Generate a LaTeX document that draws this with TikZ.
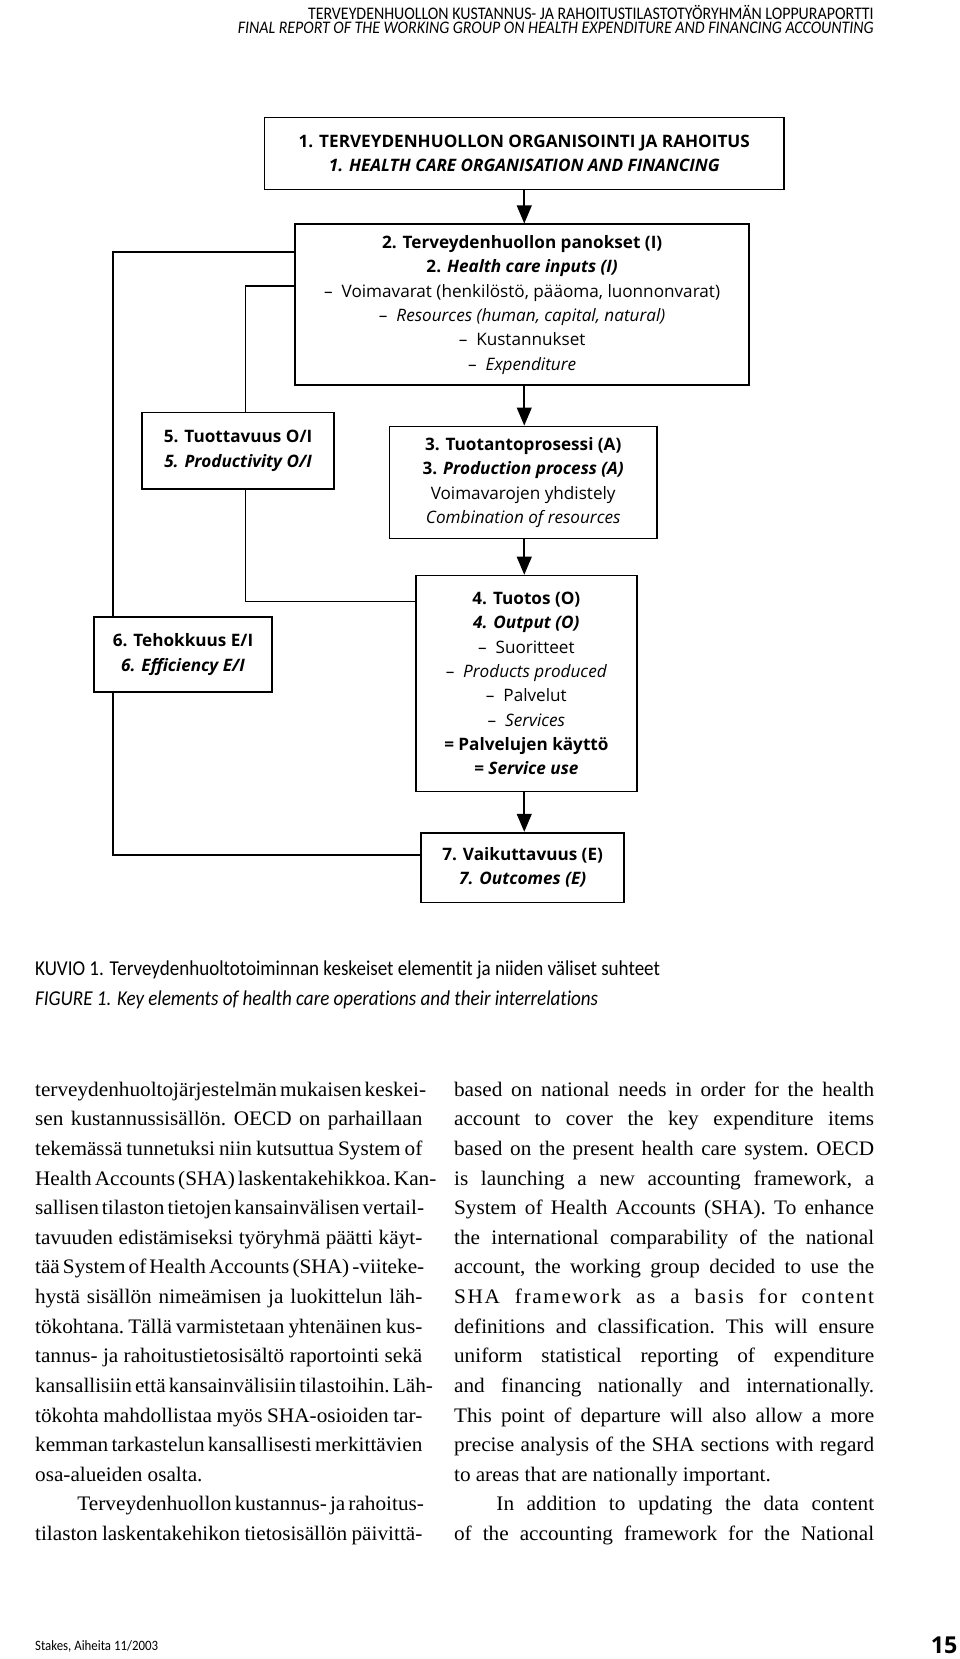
\documentclass[tikz,border=0pt]{standalone}
\usepackage{fontspec}
\setmainfont{Liberation Serif}[FakeStretch=1.03]
\newfontfamily\boxfont{Open Sans}
\newfontfamily\condfont[FakeStretch=0.9,Ligatures=NoCommon]{Carlito}
\usetikzlibrary{arrows.meta}
\newcommand{\jl}[1]{\makebox[366pt][s]{#1}}
\newcommand{\jr}[1]{\makebox[397pt][s]{#1}}
\newcommand{\bodysetup}{\fontsize{19.5}{28}\selectfont\frenchspacing
  \spaceskip=0.25em plus 0.5em minus 0.1em\relax}
\tikzset{
  box/.style={draw, line width=1.6pt, align=center, inner sep=0pt,
    font=\boxfont\bfseries\fontsize{16.2}{23}\selectfont},
  arr/.style={line width=1.5pt, -{Triangle[length=17pt,width=14pt]}},
  link/.style={line width=1.5pt},
  body/.style={anchor=base west, inner sep=0pt, font=\bodysetup},
  captext/.style={anchor=base west, inner sep=0pt, font=\condfont\fontsize{20}{24}\selectfont},
  headtext/.style={anchor=base east, inner sep=0pt, font=\condfont\fontsize{16.7}{18}\selectfont},
}
\begin{document}
\begin{tikzpicture}[x=1pt,y=-1pt]
\useasboundingbox (0,0) rectangle (907,1568);
% header
\node[headtext] (h1) at (826,18) {TERVEYDENHUOLLON KUSTANNUS- JA RAHOITUSTILASTOTYÖRYHMÄN LOPPURAPORTTI};
\node[headtext] (h2) at (826,32) {\itshape FINAL REPORT OF THE WORKING GROUP ON HEALTH EXPENDITURE AND FINANCING ACCOUNTING};
% boxes
\node[box, minimum width=491pt, minimum height=68pt] (b1) at (495.5,145)
  {1. TERVEYDENHUOLLON ORGANISOINTI JA RAHOITUS\\ \itshape 1. HEALTH CARE ORGANISATION AND FINANCING};
\node[box, minimum width=429pt, minimum height=152pt] (b2) at (493.5,288)
  {2. Terveydenhuollon panokset (I)\\ 2. \textit{Health care inputs (I)}\\
   \mdseries – \ Voimavarat (henkilöstö, pääoma, luonnonvarat)\\
   \mdseries – \ \textit{Resources (human, capital, natural)}\\
   \mdseries – \ Kustannukset\\ \mdseries – \ \textit{Expenditure}};
\node[box, minimum width=253pt, minimum height=106pt] (b3) at (494.5,456)
  {3. Tuotantoprosessi (A)\\ 3. \textit{Production process (A)}\\
   \mdseries Voimavarojen yhdistely\\ \mdseries\itshape Combination of resources};
\node[box, minimum width=209pt, minimum height=204pt] (b4) at (497.5,646)
  {4. Tuotos (O)\\ \itshape 4. Output (O)\\
   \mdseries – \ Suoritteet\\ \mdseries – \ \textit{Products produced}\\
   \mdseries – \ Palvelut\\ \mdseries – \ \textit{Services}\\
   = Palvelujen käyttö\\ = \textit{Service use}};
\node[box, minimum width=192pt, minimum height=66pt] (b7) at (494,820)
  {7. Vaikuttavuus (E)\\ \itshape 7. Outcomes (E)};
\node[box, minimum width=182pt, minimum height=72pt] (b5) at (225,426)
  {5. Tuottavuus O/I\\ \itshape 5. Productivity O/I};
\node[box, minimum width=168pt, minimum height=71pt] (b6) at (173,618.5)
  {6. Tehokkuus E/I\\ \itshape 6. Efficiency E/I};
% arrows
\coordinate (ax) at (495.5,0);
\draw[arr] (b1.south -| ax) -- (b2.north -| ax);
\draw[arr] (b2.south -| ax) -- (b3.north -| ax);
\draw[arr] (b3.south -| ax) -- (b4.north -| ax);
\draw[arr] (b4.south -| ax) -- (b7.north -| ax);
% links
\coordinate (c1) at (107,238);
\coordinate (c2) at (107,808);
\coordinate (d1) at (232,270.5);
\coordinate (d2) at (232,568.5);
\draw[link] (b2.west |- c1) -- (c1) -- (c1 |- b6.north);
\draw[link] (c1 |- b6.south) -- (c2) -- (c2 -| b7.west);
\draw[link] (b2.west |- d1) -- (d1) -- (d1 |- b5.north);
\draw[link] (d1 |- b5.south) -- (d2) -- (d2 -| b4.west);
% captions
\node[captext] (k1) at (33,922) {KUVIO 1. Terveydenhuoltotoiminnan keskeiset elementit ja niiden väliset suhteet};
\node[captext] (k2) at (33,950) {\itshape FIGURE 1. Key elements of health care operations and their interrelations};
% body left
\node[body] (l1) at (33,1036) {\jl{terveydenhuoltojärjestelmän mukaisen keskei-}};
\node[body] (l2) at (33,1064) {\jl{sen kustannussisällön. OECD on parhaillaan}};
\node[body] (l3) at (33,1092) {\jl{tekemässä tunnetuksi niin kutsuttua System of}};
\node[body] (l4) at (33,1120) {\jl{Health Accounts (SHA) laskentakehikkoa. Kan-}};
\node[body] (l5) at (33,1148) {\jl{sallisen tilaston tietojen kansainvälisen vertail-}};
\node[body] (l6) at (33,1176) {\jl{tavuuden edistämiseksi työryhmä päätti käyt-}};
\node[body] (l7) at (33,1204) {\jl{tää System of Health Accounts (SHA) -viiteke-}};
\node[body] (l8) at (33,1232) {\jl{hystä sisällön nimeämisen ja luokittelun läh-}};
\node[body] (l9) at (33,1260) {\jl{tökohtana. Tällä varmistetaan yhtenäinen kus-}};
\node[body] (l10) at (33,1288) {\jl{tannus- ja rahoitustietosisältö raportointi sekä}};
\node[body] (l11) at (33,1316) {\jl{kansallisiin että kansainvälisiin tilastoihin. Läh-}};
\node[body] (l12) at (33,1344) {\jl{tökohta mahdollistaa myös SHA-osioiden tar-}};
\node[body] (l13) at (33,1372) {\jl{kemman tarkastelun kansallisesti merkittävien}};
\node[body] (l14) at (33,1400) {osa-alueiden osalta.};
\node[body] (l15) at (73,1428) {\makebox[326pt][s]{Terveydenhuollon kustannus- ja rahoitus-}};
\node[body] (l16) at (33,1456) {\jl{tilaston laskentakehikon tietosisällön päivittä-}};
% body right
\node[body] (r1) at (429,1036) {\jr{based on national needs in order for the health}};
\node[body] (r2) at (429,1064) {\jr{account to cover the key expenditure items}};
\node[body] (r3) at (429,1092) {\jr{based on the present health care system. OECD}};
\node[body] (r4) at (429,1120) {\jr{is launching a new accounting framework, a}};
\node[body] (r5) at (429,1148) {\jr{System of Health Accounts (SHA). To enhance}};
\node[body] (r6) at (429,1176) {\jr{the international comparability of the national}};
\node[body] (r7) at (429,1204) {\jr{account, the working group decided to use the}};
\node[body] (r8) at (429,1232) {\jr{\addfontfeature{LetterSpace=8}SHA framework as a basis for content}};
\node[body] (r9) at (429,1260) {\jr{definitions and classification. This will ensure}};
\node[body] (r10) at (429,1288) {\jr{uniform statistical reporting of expenditure}};
\node[body] (r11) at (429,1316) {\jr{and financing nationally and internationally.}};
\node[body] (r12) at (429,1344) {\jr{This point of departure will also allow a more}};
\node[body] (r13) at (429,1372) {\jr{precise analysis of the SHA sections with regard}};
\node[body] (r14) at (429,1400) {to areas that are nationally important.};
\node[body] (r15) at (469,1428) {\makebox[357pt][s]{In addition to updating the data content}};
\node[body] (r16) at (429,1456) {\jr{of the accounting framework for the National}};
% footer
\node[anchor=base west, inner sep=0pt, font=\condfont\fontsize{13.5}{16}\selectfont] (f1) at (33,1560) {Stakes, Aiheita 11/2003};
\node[anchor=base east, inner sep=0pt, font=\boxfont\bfseries\fontsize{22}{24}\selectfont] (f2) at (905,1563) {15};
\end{tikzpicture}
\end{document}
